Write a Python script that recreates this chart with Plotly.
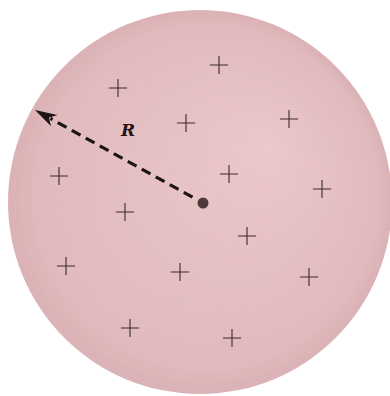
import numpy as np
import plotly.graph_objects as go

# sphere geometry (pixel space, y downwards)
sphere_center = (200, 202)
sphere_radius = 192
highlight = (268, 148)

# charges (+) positions
plus_x = [219, 118, 186, 289, 59, 229, 322, 125, 247, 66, 180, 309, 130, 232]
plus_y = [65, 88, 123, 119, 176, 174, 189, 212, 236, 266, 272, 277, 328, 338]

# radius arrow: from center dot to the surface
dot_x, dot_y = [203], [203]
tip_x, tip_y = [35], [110]
label_x, label_y = [128], [132]
label_text = ["<b><i>R</i></b>"]

W, H = 390, 396

fig = go.Figure()

# shaded sphere: stacked circles fading toward the highlight
edge_rgb = np.array([219, 179, 182])
mid_rgb = np.array([224, 186, 188])
light_rgb = np.array([236, 200, 202])
n = 45
for i in range(n):
    t = i / (n - 1)
    r = sphere_radius * (1 - 0.97 * t)
    cx = sphere_center[0] + (highlight[0] - sphere_center[0]) * t
    cy = sphere_center[1] + (highlight[1] - sphere_center[1]) * t
    if t < 0.1:
        c = edge_rgb + (mid_rgb - edge_rgb) * (t / 0.1)
    else:
        c = mid_rgb + (light_rgb - mid_rgb) * ((t - 0.1) / 0.9) ** 0.9
    fig.add_shape(
        type="circle", x0=cx - r, x1=cx + r, y0=cy - r, y1=cy + r,
        fillcolor=f"rgb({int(c[0])},{int(c[1])},{int(c[2])})",
        line_width=0, layer="below",
    )

fig.add_trace(go.Scatter(
    x=plus_x, y=plus_y, mode="markers",
    marker=dict(symbol="cross-thin", size=13, line=dict(color="#3a2a2c", width=1.1)),
))

# dashed radius line, stopped short of the arrowhead
dx, dy = tip_x[0] - dot_x[0], tip_y[0] - dot_y[0]
L = np.hypot(dx, dy)
ux, uy = dx / L, dy / L
head = 22
fig.add_trace(go.Scatter(
    x=[dot_x[0] + ux * 12, tip_x[0] - ux * head * 0.8],
    y=[dot_y[0] + uy * 12, tip_y[0] - uy * head * 0.8],
    mode="lines", line=dict(color="#1e1416", width=3.2, dash="10px,6px"),
))

# arrowhead (stealth style)
px, py = -uy, ux
bx, by = tip_x[0] - ux * head, tip_y[0] - uy * head
nx, ny = tip_x[0] - ux * head * 0.72, tip_y[0] - uy * head * 0.72
path = (
    f"M {tip_x[0]},{tip_y[0]} L {bx + px * 6.5},{by + py * 6.5} "
    f"L {nx},{ny} L {bx - px * 6.5},{by - py * 6.5} Z"
)
fig.add_shape(type="path", path=path, fillcolor="#1e1416", line_width=0)

fig.add_trace(go.Scatter(
    x=dot_x, y=dot_y, mode="markers",
    marker=dict(size=11, color="#4e3a3d"),
))

fig.add_trace(go.Scatter(
    x=label_x, y=label_y, mode="text", text=label_text,
    textfont=dict(family="DejaVu Serif", size=17, color="#1e1416"),
))

fig.update_layout(
    width=W, height=H,
    margin=dict(l=0, r=0, t=0, b=0),
    paper_bgcolor="white", plot_bgcolor="white",
    showlegend=False,
    xaxis=dict(range=[0, W], visible=False, fixedrange=True),
    yaxis=dict(range=[H, 0], visible=False, fixedrange=True),
)

fig.write_html(
    "out.html",
    config=dict(displayModeBar=False),
    post_script="document.body.style.margin='0';",
)
